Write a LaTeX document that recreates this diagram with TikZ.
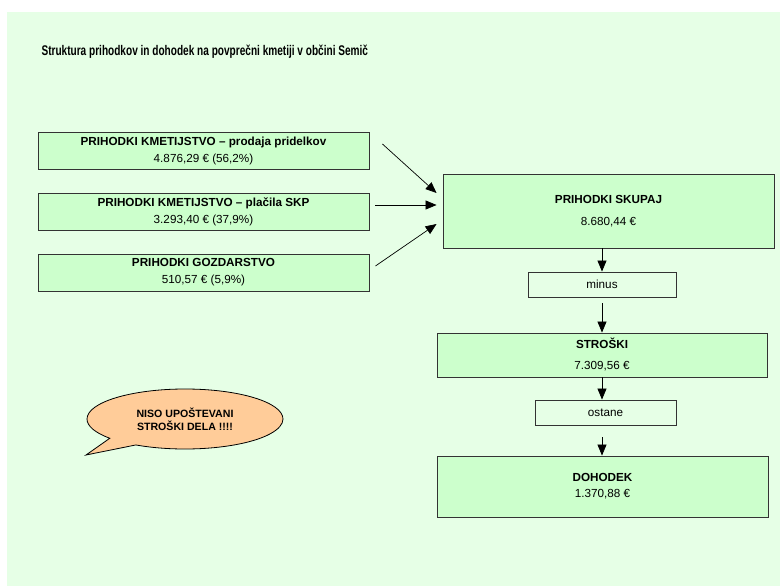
\documentclass[tikz,border=0pt]{standalone}
\usepackage{fontspec}
\setmainfont{Liberation Sans}
\newfontfamily\titlefont[FakeStretch=0.72]{Liberation Sans}
\usetikzlibrary{arrows.meta,shapes.callouts}
\definecolor{bggreen}{HTML}{E6FFE6}
\definecolor{boxgreen}{HTML}{CCFFCC}
\definecolor{peach}{HTML}{FFCC99}
\definecolor{edgegray}{HTML}{333333}

\begin{document}
\begin{tikzpicture}[x=1pt,y=-1pt,>={Triangle[length=11pt,width=9pt]},
  money node/.style={rectangle,draw=edgegray,fill=boxgreen,line width=0.9pt,inner sep=0pt,
    align=center,minimum width=331,font=\fontsize{11.7}{17}\selectfont},
  op node/.style={rectangle,draw=edgegray,fill=bggreen,line width=0.9pt,inner sep=0pt,
    minimum height=25,font=\fontsize{11.7}{14}\selectfont},
  flow/.style={->,line width=0.7pt}]

 \useasboundingbox (0,0) rectangle (780,586);
 \fill[bggreen] (7,12) rectangle (780,586);

 \node[anchor=west,font=\titlefont\bfseries\fontsize{14}{16}\selectfont] (title) at (38,52)
   {Struktura prihodkov in dohodek na povprečni kmetiji v občini Semič};

 % prihodki
 \node[money node,minimum height=37] (prodaja) at (203.5,150.5)
   {\textbf{PRIHODKI KMETIJSTVO – prodaja pridelkov}\\4.876,29 € (56,2\%)};
 \node[money node,minimum height=37] (skp) at (203.5,211.5)
   {\textbf{PRIHODKI KMETIJSTVO – plačila SKP}\\3.293,40 € (37,9\%)};
 \node[money node,minimum height=37] (gozd) at (203.5,272.5)
   {\textbf{PRIHODKI GOZDARSTVO}\\510,57 € (5,9\%)};

 % izracun
 \node[money node,minimum height=74,font=\fontsize{11.7}{22}\selectfont] (skupaj) at (608.5,211)
   {\textbf{PRIHODKI SKUPAJ}\\8.680,44 €};
 \node[op node,minimum width=148] (minus) at (602,284.5) {minus};
 \node[money node,minimum width=330,minimum height=44,font=\fontsize{11.7}{21}\selectfont] (stroski) at (602,355)
   {\textbf{STROŠKI}\\7.309,56 €};
 \node[op node,minimum width=141] (ostane) at (605.5,412.5) {ostane};
 \node[money node,minimum height=61,font=\fontsize{11.7}{16}\selectfont] (dohodek) at (602.5,486.5)
   {\textbf{DOHODEK}\\1.370,88 €};

 \node[ellipse callout,draw=black,fill=peach,line width=0.8pt,minimum width=196,minimum height=60,
   callout absolute pointer={(86,455)},callout pointer arc=20,inner sep=0pt,align=center,
   font=\bfseries\fontsize{10.6}{13}\selectfont] (opomba) at (185,419)
   {NISO UPOŠTEVANI\\STROŠKI DELA !!!!};

 \draw[flow] ([xshift=13pt,yshift=6.5pt]prodaja.east) -- ([xshift=-6pt,yshift=18pt]skupaj.west);
 \draw[flow] ([xshift=6pt,yshift=6.5pt]skp.east) -- ([xshift=-6pt,yshift=6pt]skupaj.west);
 \draw[flow] ([xshift=6pt,yshift=6.5pt]gozd.east) -- ([xshift=-6pt,yshift=-13pt]skupaj.west);
 \draw[flow] ([xshift=-6.5pt]skupaj.south) -- (minus.north);
 \draw[flow] ([yshift=-6pt]minus.south) -- (stroski.north);
 \draw[flow] (stroski.south) -- ([xshift=-3.5pt]ostane.north);
 \draw[flow] ([xshift=-3.5pt,yshift=-12pt]ostane.south) -- ([xshift=-0.5pt]dohodek.north);

\end{tikzpicture}
\end{document}
